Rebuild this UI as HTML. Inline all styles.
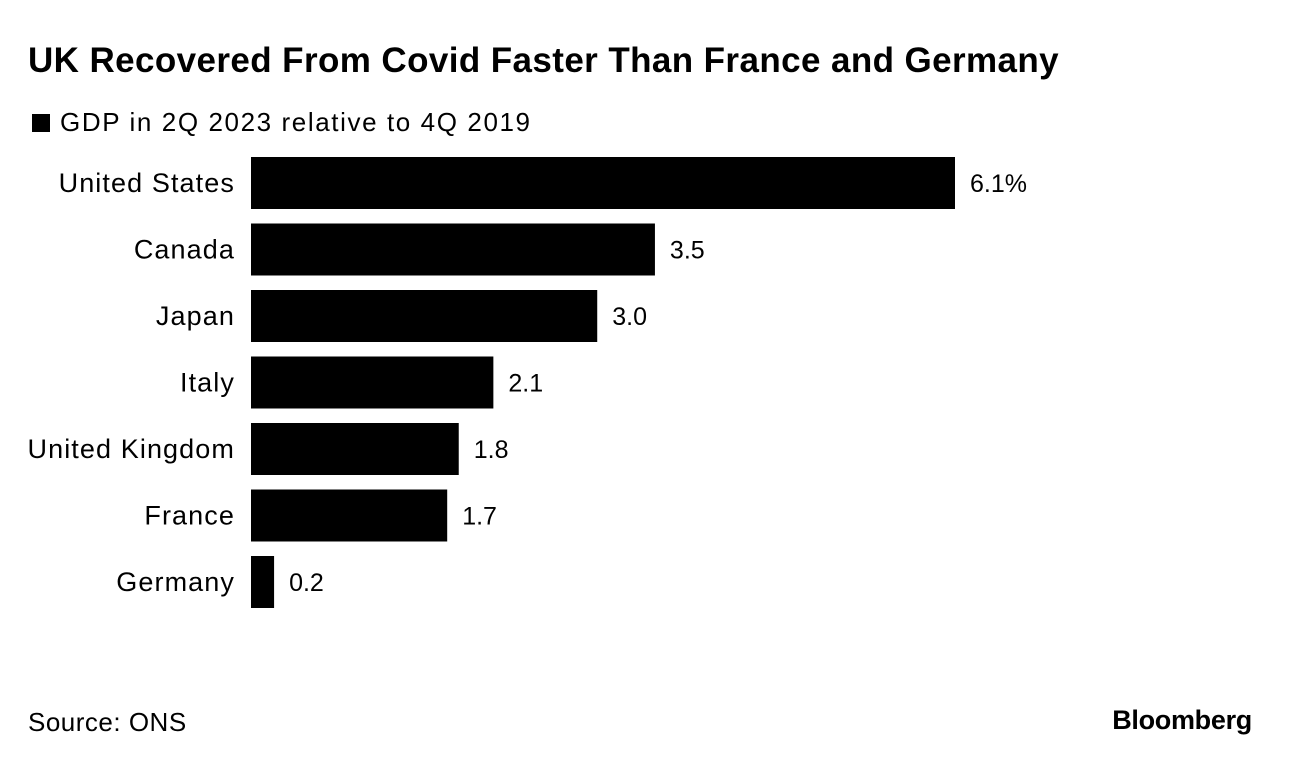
<!DOCTYPE html>
<html><head><meta charset="utf-8"><style>
body{margin:0;background:#fff;font-family:"Liberation Sans",Arial,sans-serif;}
#wrap{position:relative;width:1292px;height:766px;overflow:hidden;}
</style></head><body>
<div id="wrap">
<div style="position:absolute;left:28px;top:41px;font-size:35px;font-weight:bold;letter-spacing:0.4px;color:#000;white-space:nowrap">UK Recovered From Covid Faster Than France and Germany</div>
<div style="position:absolute;left:32px;top:107px;font-size:26px;letter-spacing:1.6px;color:#000;white-space:nowrap"><span style="display:inline-block;width:18px;height:18px;background:#000;margin-right:10px;vertical-align:-1px"></span>GDP in 2Q 2023 relative to 4Q 2019</div>
<svg id="chart" width="1292" height="766" style="position:absolute;left:0;top:0"></svg>
<div style="position:absolute;left:28px;top:707px;font-size:26px;letter-spacing:0.5px;color:#000">Source: ONS</div>
<div style="position:absolute;right:40px;top:705px;font-size:27px;font-weight:bold;letter-spacing:-0.3px;color:#000">Bloomberg</div>
</div>
<script>
const categories=["United States","Canada","Japan","Italy","United Kingdom","France","Germany"];
const values=[6.1,3.5,3.0,2.1,1.8,1.7,0.2];
const valueLabels=["6.1%","3.5","3.0","2.1","1.8","1.7","0.2"];
const svg=document.getElementById('chart');
const NS="http://www.w3.org/2000/svg";
const x0=251, pxPerUnit=704/6.1;
function xScale(v){return x0+v*pxPerUnit;}
function yScale(i){return 157+i*66.5;}
const bh=52;
categories.forEach((c,i)=>{
  const y=yScale(i);
  const r=document.createElementNS(NS,'rect');
  r.setAttribute('x',x0);r.setAttribute('y',y);
  r.setAttribute('width',xScale(values[i])-x0);r.setAttribute('height',bh);
  r.setAttribute('fill','#000');
  
  
  svg.appendChild(r);
  const t=document.createElementNS(NS,'text');
  t.setAttribute('x',235);t.setAttribute('y',y+bh/2+9);
  t.setAttribute('text-anchor','end');t.setAttribute('font-size','27');
  t.setAttribute('letter-spacing','1.1');
  t.setAttribute('font-family','Liberation Sans, Arial, sans-serif');
  t.textContent=c;
  
  
  svg.appendChild(t);
  const v=document.createElementNS(NS,'text');
  v.setAttribute('x',xScale(values[i])+15);v.setAttribute('y',y+bh/2+9);
  v.setAttribute('font-size','25');
  v.setAttribute('font-family','Liberation Sans, Arial, sans-serif');
  v.textContent=valueLabels[i];
  
  
  svg.appendChild(v);
});
</script>
</body></html>
